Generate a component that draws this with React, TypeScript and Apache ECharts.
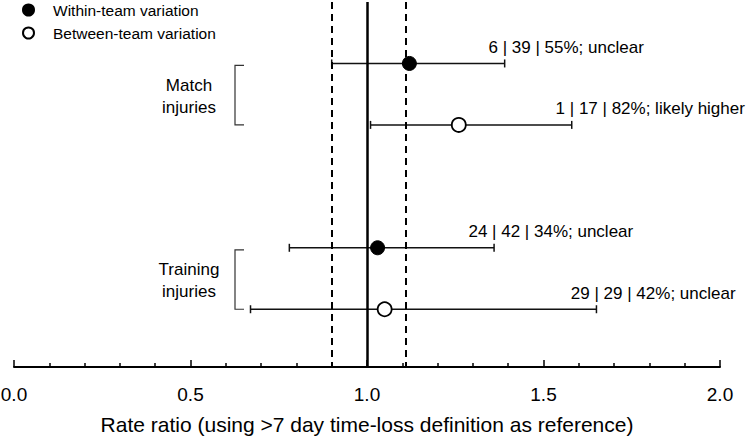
import React, { useEffect, useRef } from "react";
import * as echarts from "echarts";

// ---- data ----
const groups = ["Match\ninjuries", "Training\ninjuries"];
const groupRows = [[1, 2], [4, 5]]; // row slots of each group
const variations = ["Within-team variation", "Between-team variation"];
const rowSlot = [1, 2, 4, 5];
const rowVariation = [0, 1, 0, 1];
const estimates = [1.12, 1.26, 1.03, 1.05];
const lowerCI = [0.9, 1.01, 0.78, 0.67];
const upperCI = [1.39, 1.58, 1.36, 1.65];
const annotations = [
  "6 | 39 | 55%; unclear",
  "1 | 17 | 82%; likely higher",
  "24 | 42 | 34%; unclear",
  "29 | 29 | 42%; unclear",
];
const referenceLine = 1;
const thresholdLines = [0.9, 1.11];
const xTicks = { min: 0, max: 2, interval: 0.5 };
const xTitle = "Rate ratio (using >7 day time-loss definition as reference)";

const FONT = "Liberation Sans, Arial, sans-serif";

export default function App() {
  const ref = useRef<HTMLDivElement>(null);
  useEffect(() => {
    if (!ref.current) return;
    const chart = echarts.init(ref.current, undefined, { renderer: "svg" });

    const barData = rowSlot.map((s, i) => [lowerCI[i], upperCI[i], s, i]);
    const groupData = groups.map((g, i) => [0, groupRows[i][0], groupRows[i][1], i]);

    const pointSeries = variations.map((name, v) => ({
      name,
      type: "scatter",
      z: 5,
      symbol: "circle",
      symbolSize: 14,
      itemStyle:
        v === 0
          ? { color: "#000", borderColor: "#000", borderWidth: 1, opacity: 1 }
          : { color: "#fff", borderColor: "#000", borderWidth: 1.8, opacity: 1 },
      data: rowSlot
        .map((s, i) => (rowVariation[i] === v ? [estimates[i], s] : null))
        .filter((d) => d !== null),
      ...(v === 0
        ? {
            markLine: {
              silent: true,
              symbol: "none",
              label: { show: false },
              animation: false,
              data: [
                { xAxis: referenceLine, lineStyle: { color: "#000", width: 2.5, type: "solid" } },
                ...thresholdLines.map((t) => ({
                  xAxis: t,
                  lineStyle: { color: "#000", width: 2, type: [7, 5] },
                })),
              ],
            },
          }
        : {}),
    }));

    const option: any = {
      animation: false,
      backgroundColor: "#fff",
      textStyle: { fontFamily: FONT },
      grid: { left: 14, right: 30, top: 2, bottom: 71, containLabel: false, outerBoundsMode: "none" },
      legend: {
        orient: "vertical",
        left: 17,
        top: -3,
        itemWidth: 11,
        itemHeight: 11,
        itemGap: 7,
        icon: "circle",
        data: variations,
        textStyle: { fontSize: 15.5, color: "#000", fontFamily: FONT, padding: [0, 0, 0, 14] },
        selectedMode: false,
      },
      xAxis: {
        type: "value",
        position: "bottom",
        min: xTicks.min,
        max: xTicks.max,
        interval: xTicks.interval,
        splitLine: { show: false },
        minorSplitLine: { show: false },
        axisLine: { show: true, onZero: false, lineStyle: { color: "#000", width: 2 } },
        axisTick: { show: true, inside: true, length: 7, lineStyle: { color: "#000", width: 1.5 } },
        minorTick: { show: true, splitNumber: 5, length: 4, lineStyle: { color: "#000", width: 1.5 } },
        axisLabel: {
          color: "#000",
          fontSize: 19,
          fontFamily: FONT,
          margin: 18,
          formatter: (v: number) => v.toFixed(1),
        },
        name: xTitle,
        nameLocation: "middle",
        nameGap: 47,
        nameTextStyle: { color: "#000", fontSize: 21, fontFamily: FONT },
      },
      yAxis: { type: "value", min: 0, max: 5.94, inverse: true, show: false },
      series: [
        {
          type: "custom",
          z: 3,
          silent: true,
          encode: { x: [0, 1], y: 2 },
          data: barData,
          renderItem: (params: any, api: any) => {
            const y = api.value(2);
            const idx = api.value(3);
            const lo = api.coord([api.value(0), y]);
            const hi = api.coord([api.value(1), y]);
            const text = annotations[idx];
            const cut = text.indexOf("|");
            const prefix = text.slice(0, cut);
            const rest = text.slice(cut);
            const ls = { stroke: "#111", lineWidth: 1.5 };
            const cap = 4;
            return {
              type: "group",
              children: [
                { type: "line", shape: { x1: lo[0], y1: lo[1], x2: hi[0], y2: hi[1] }, style: ls },
                { type: "line", shape: { x1: lo[0], y1: lo[1] - cap, x2: lo[0], y2: lo[1] + cap }, style: ls },
                { type: "line", shape: { x1: hi[0], y1: hi[1] - cap, x2: hi[0], y2: hi[1] + cap }, style: ls },
                {
                  type: "text",
                  x: hi[0] - 2,
                  y: hi[1] - 16,
                  style: { text: prefix, align: "right", verticalAlign: "middle", fontSize: 17, fontFamily: FONT, fill: "#000" },
                },
                {
                  type: "text",
                  x: hi[0] - 2,
                  y: hi[1] - 16,
                  style: { text: rest, align: "left", verticalAlign: "middle", fontSize: 17, fontFamily: FONT, fill: "#000" },
                },
              ],
            };
          },
        },
        {
          type: "custom",
          z: 3,
          silent: true,
          encode: { x: 0, y: [1, 2] },
          data: groupData,
          renderItem: (params: any, api: any) => {
            const top = api.coord([0, api.value(1)]);
            const bot = api.coord([0, api.value(2)]);
            const idx = api.value(3);
            const bx = params.coordSys.x + 221;
            const y1 = top[1] + 2;
            const y2 = bot[1];
            const ls = { stroke: "#333", lineWidth: 1.2, fill: "none" };
            return {
              type: "group",
              children: [
                {
                  type: "polyline",
                  shape: { points: [[bx + 9, y1], [bx, y1], [bx, y2], [bx + 9, y2]] },
                  style: ls,
                },
                {
                  type: "text",
                  x: params.coordSys.x + 175,
                  y: (y1 + y2) / 2 + 1,
                  style: {
                    text: groups[idx],
                    align: "center",
                    verticalAlign: "middle",
                    fontSize: 17,
                    lineHeight: 22,
                    fontFamily: FONT,
                    fill: "#000",
                  },
                },
              ],
            };
          },
        },
        ...pointSeries,
      ],
    };
    chart.setOption(option);
    return () => chart.dispose();
  }, []);
  return <div ref={ref} style={{ width: 750, height: 438, position: "absolute", left: 0, top: 0 }} />;
}
